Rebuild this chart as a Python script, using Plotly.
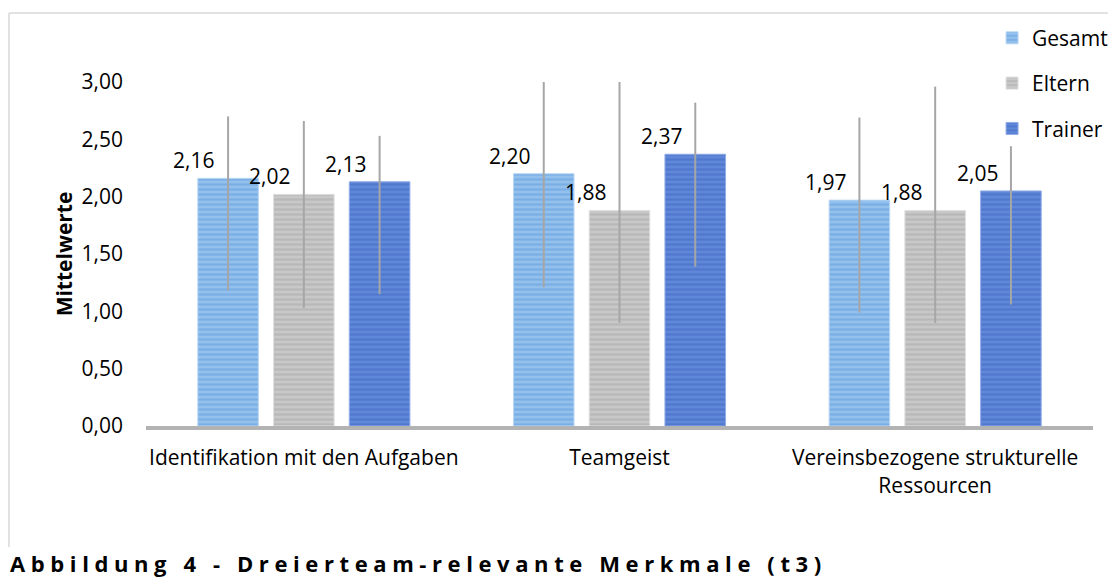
import plotly.graph_objects as go

# Mittelwerte je Merkmal (t3)
categories = ["Identifikation mit den Aufgaben", "Teamgeist", "Vereinsbezogene strukturelle<br>Ressourcen"]
series_names = ["Gesamt", "Eltern", "Trainer"]

gesamt = [2.16, 2.20, 1.97]
eltern = [2.02, 1.88, 1.88]
trainer = [2.13, 2.37, 2.05]

# Fehlerbalken (oben / unten)
gesamt_plus = [0.54, 0.80, 0.72]
gesamt_minus = [0.98, 0.99, 0.98]
eltern_plus = [0.64, 1.12, 1.08]
eltern_minus = [0.99, 0.98, 0.98]
trainer_plus = [0.40, 0.45, 0.39]
trainer_minus = [0.98, 0.98, 0.99]

y_ticks = [0, 0.5, 1.0, 1.5, 2.0, 2.5, 3.0]

values = [gesamt, eltern, trainer]
plus = [gesamt_plus, eltern_plus, trainer_plus]
minus = [gesamt_minus, eltern_minus, trainer_minus]

# stripe colours: (background, stripes, edge)
styles = [
    ("#94c0ec", "#5f9de0", "#bcd8f5"),
    ("#c8c8c8", "#a8a8a8", "#e0e0e0"),
    ("#6088d8", "#3f67c2", "#90ace8"),
]

FONT = "Open Sans"

fig = go.Figure()

for i, name in enumerate(series_names):
    bg, fg, edge = styles[i]
    fig.add_trace(go.Bar(
        x=categories,
        y=values[i],
        name=name,
        legendgroup=name,
        marker=dict(
            color=bg,
            line=dict(color=edge, width=1),
            pattern=dict(shape="-", bgcolor=bg, fgcolor=fg, size=5, solidity=0.45, fillmode="overlay"),
        ),
        error_y=dict(
            type="data", symmetric=False,
            array=plus[i], arrayminus=minus[i],
            color="#a6a6a6", thickness=2, width=0,
        ),
    ))

# data labels, Excel-style left of the error bar
slot_px = [-76, 0, 76]
for i in range(3):
    for j, cat in enumerate(categories):
        v = values[i][j]
        fig.add_annotation(
            x=cat, y=v, xref="x", yref="y",
            text=f"{v:.2f}".replace(".", ","),
            showarrow=False, xshift=slot_px[i] - 34, yshift=18,
            font=dict(family=FONT, size=21, color="#000000"),
        )

fig.add_annotation(
    x=-0.146, y=-0.398, xref="paper", yref="paper",
    xanchor="left", yanchor="middle", showarrow=False,
    text='<b><span style="letter-spacing:5.6px">Abbildung 4 - Dreierteam-relevante Merkmale (t3)</span></b>',
    font=dict(family=FONT, size=22, color="#000000"),
)

# chart frame (only top and left edge visible)
fig.add_shape(type="line", xref="paper", yref="paper",
              x0=-0.1447, x1=1.05, y0=1.2006, y1=1.2006,
              line=dict(color="#d9d9d9", width=1.5), layer="below")
fig.add_shape(type="line", xref="paper", yref="paper",
              x0=-0.1447, x1=-0.1447, y0=-0.352, y1=1.2006,
              line=dict(color="#d9d9d9", width=1.5), layer="below")

fig.update_layout(
    width=1108, height=571,
    margin=dict(l=138, r=23, t=74, b=153, autoexpand=False),
    paper_bgcolor="white", plot_bgcolor="white",
    separators=",.",
    barmode="group", bargap=0.28, bargroupgap=0.2,
    font=dict(family=FONT, size=21, color="#000000"),
    showlegend=True,
    legend=dict(
        x=0.8934, y=1.187, xanchor="left", yanchor="top",
        font=dict(family=FONT, size=21, color="#000000"),
        tracegroupgap=15, bgcolor="rgba(0,0,0,0)",
    ),
    xaxis=dict(
        showline=True, linecolor="#b3b3b3", linewidth=4,
        showgrid=False, ticks="", tickfont=dict(size=21),
        ticklabelstandoff=10,
    ),
    yaxis=dict(
        range=[0, 3], tickvals=y_ticks, tickformat=".2f",
        showgrid=False, zeroline=False, showline=False, ticks="",
        ticklabelstandoff=22,
        title=dict(text="<b>Mittelwerte</b>", standoff=3, font=dict(size=21)),
    ),
)

fig.write_html("out.html")
